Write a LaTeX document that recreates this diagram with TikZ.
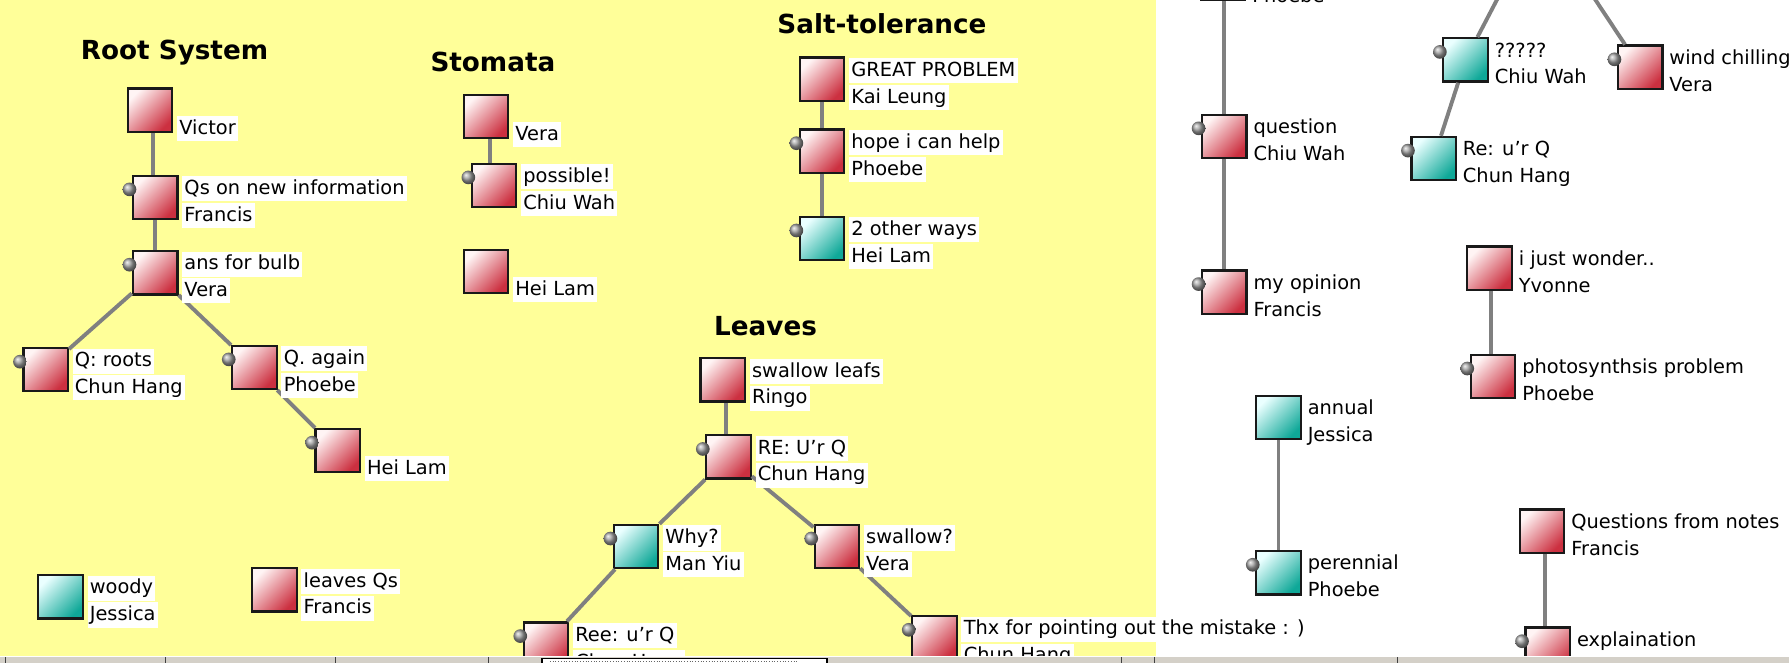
\documentclass[tikz,border=0pt]{standalone}
\usepackage{fontspec}
\setmainfont{DejaVu Sans}
\usetikzlibrary{calc}
\definecolor{kfyellow}{HTML}{FFFF99}
\definecolor{redlite}{HTML}{FFF4F4}
\definecolor{reddark}{HTML}{CC3040}
\definecolor{teallite}{HTML}{EAFFFF}
\definecolor{tealdark}{HTML}{0FA898}
\definecolor{linkgray}{HTML}{808080}
\definecolor{bargray}{HTML}{D4D0C8}
\tikzset{
 sqbase/.style={draw=black!90, line width=2pt, minimum width=39pt, minimum height=38pt, inner sep=0pt},
 rn/.style={sqbase, top color=redlite, bottom color=reddark, shading angle=45},
 tn/.style={sqbase, top color=teallite, bottom color=tealdark, shading angle=45},
 lab/.style={fill=white, anchor=west, inner xsep=2pt, inner ysep=1pt, text height=15pt, text depth=5pt, font=\fontsize{17}{20}\selectfont},
 link/.style={draw=linkgray, line width=3.4pt},
 knob/.style={circle, inner sep=0pt, minimum size=12pt, ball color=gray!75},
 ttl/.style={font=\bfseries\fontsize{23}{26}\selectfont},
}
\newcommand\lb[3]{\node[lab] (#1-t) at ($(#1.north east)+(3,12.5)$) {#2}; \node[lab] (#1-a) at ($(#1.north east)+(3,36)$) {#3};}
\newcommand\lbA[2]{\node[lab] (#1-a) at ($(#1.north east)+(3,36)$) {#2};}
\newcommand\kb[1]{\node[knob] (#1-k) at ($(#1.west)+(-2,-7)$) {};}
\newcommand\vlink[2]{\path ($(#1)!0.5!(#2)$) coordinate (#1-#2-m);
  \draw[link] (#1.south -| #1-#2-m) -- (#2.north -| #1-#2-m);}
\begin{document}
\begin{tikzpicture}[x=1pt,y=-1pt]
\useasboundingbox (0,0) rectangle (1568,581);
\fill[kfyellow] (0,0) rectangle (1013,575);
\fill[white] (1013,0) rectangle (1568,575);
\begin{scope}
\clip (0,0) rectangle (1568,575);
% titles
\node[ttl] (t1) at (153,46) {Root System};
\node[ttl] (t2) at (432,54) {Stomata};
\node[ttl] (t3) at (773,21) {Salt-tolerance};
\node[ttl] (t4) at (671,286) {Leaves};
% squares
\node[rn] (vic) at (131.5,96.5) {};
\node[rn] (qs) at (136,173) {};
\node[rn] (ans) at (136,239) {};
\node[rn] (qr) at (40,324) {};
\node[rn] (qa) at (223,322) {};
\node[rn] (hl) at (296,395) {};
\node[rn] (sv) at (426,102) {};
\node[rn] (sp) at (433,162.5) {};
\node[rn] (sh) at (426,238) {};
\node[rn] (gp) at (720.5,69.5) {};
\node[rn] (hope) at (720.5,132.5) {};
\node[tn] (two) at (720.5,209) {};
\node[rn] (sl) at (633.5,333) {};
\node[rn] (re) at (638.5,400.5) {};
\node[tn] (why) at (557.5,479) {};
\node[rn] (sw) at (733.5,479) {};
\node[rn] (ree) at (478.5,564.5) {};
\node[rn] (thx) at (819,559) {};
\node[tn] (woody) at (53,523) {};
\node[rn] (lq) at (240.5,517) {};
\node[rn] (pht) at (1072,-19) {};
\node[rn] (ques) at (1073,119.5) {};
\node[rn] (myop) at (1073,256) {};
\coordinate (par) at (1350,-73);
\node[tn] (qq) at (1284.5,52.5) {};
\node[rn] (wc) at (1437.5,59) {};
\node[tn] (reu) at (1256.5,139) {};
\node[rn] (ijw) at (1305.5,235) {};
\node[rn] (photo) at (1308.5,330) {};
\node[tn] (annual) at (1120.5,366) {};
\node[tn] (peren) at (1120.5,502) {};
\node[rn] (qfn) at (1351.5,465.5) {};
\node[rn] (expl) at (1356.5,569) {};
% links
\vlink{vic}{qs}
\vlink{qs}{ans}
\draw[link] (ans) -- (qr);
\draw[link] (ans) -- (qa);
\draw[link] (qa) -- (hl);
\vlink{sv}{sp}
\vlink{gp}{hope}
\vlink{hope}{two}
\vlink{sl}{re}
\draw[link] (re) -- (why);
\draw[link] (re) -- (sw);
\draw[link] (why) -- (ree);
\draw[link] (sw) -- (thx);
\vlink{pht}{ques}
\vlink{ques}{myop}
\draw[link] (par) -- (qq);
\draw[link] (par) -- (wc);
\draw[link] (qq) -- (reu);
\vlink{ijw}{photo}
\vlink{annual}{peren}
\vlink{qfn}{expl}
% labels
\lbA{vic}{Victor}
\lb{qs}{Qs on new information}{Francis}
\lb{ans}{ans for bulb}{Vera}
\lb{qr}{Q: roots}{Chun Hang}
\lb{qa}{Q. again}{Phoebe}
\lbA{hl}{Hei Lam}
\lbA{sv}{Vera}
\lb{sp}{possible!}{Chiu Wah}
\lbA{sh}{Hei Lam}
\lb{gp}{GREAT PROBLEM}{Kai Leung}
\lb{hope}{hope i can help}{Phoebe}
\lb{two}{2 other ways}{Hei Lam}
\lb{sl}{swallow leafs}{Ringo}
\lb{re}{RE: U'r Q}{Chun Hang}
\lb{why}{Why?}{Man Yiu}
\lb{sw}{swallow?}{Vera}
\lb{ree}{Ree: u'r Q}{Chun Hang}
\lb{thx}{Thx for pointing out the mistake : )}{Chun Hang}
\lb{woody}{woody}{Jessica}
\lb{lq}{leaves Qs}{Francis}
\lbA{pht}{Phoebe}
\lb{ques}{question}{Chiu Wah}
\lb{myop}{my opinion}{Francis}
\lb{qq}{?????}{Chiu Wah}
\lb{wc}{wind chilling}{Vera}
\lb{reu}{Re: u'r Q}{Chun Hang}
\lb{ijw}{i just wonder..}{Yvonne}
\lb{photo}{photosynthsis problem}{Phoebe}
\lb{annual}{annual}{Jessica}
\lb{peren}{perennial}{Phoebe}
\lb{qfn}{Questions from notes}{Francis}
\node[lab] (expl-t) at ($(expl.north east)+(3,12.5)$) {explaination};
% knobs
\kb{qs}\kb{ans}\kb{qr}\kb{qa}\kb{hl}\kb{sp}\kb{hope}\kb{two}
\kb{re}\kb{why}\kb{sw}\kb{ree}\kb{thx}
\kb{ques}\kb{myop}\kb{qq}\kb{wc}\kb{reu}\kb{photo}\kb{peren}\kb{expl}
\end{scope}
% bottom bar
\fill[bargray] (0,575) rectangle (1568,581);
\draw[white, line width=1pt] (0,575.5) -- (1568,575.5);
\foreach \x in {5,145,294,428,983,1012,1225}
  \draw[black!75, line width=1.2pt] (\x,576) -- (\x,581);
\draw[black, line width=1.4pt, fill=white] (475,577) rectangle (725,583);
\draw[black!60, dotted] (482,579.5) -- (700,579.5);
\end{tikzpicture}
\end{document}
